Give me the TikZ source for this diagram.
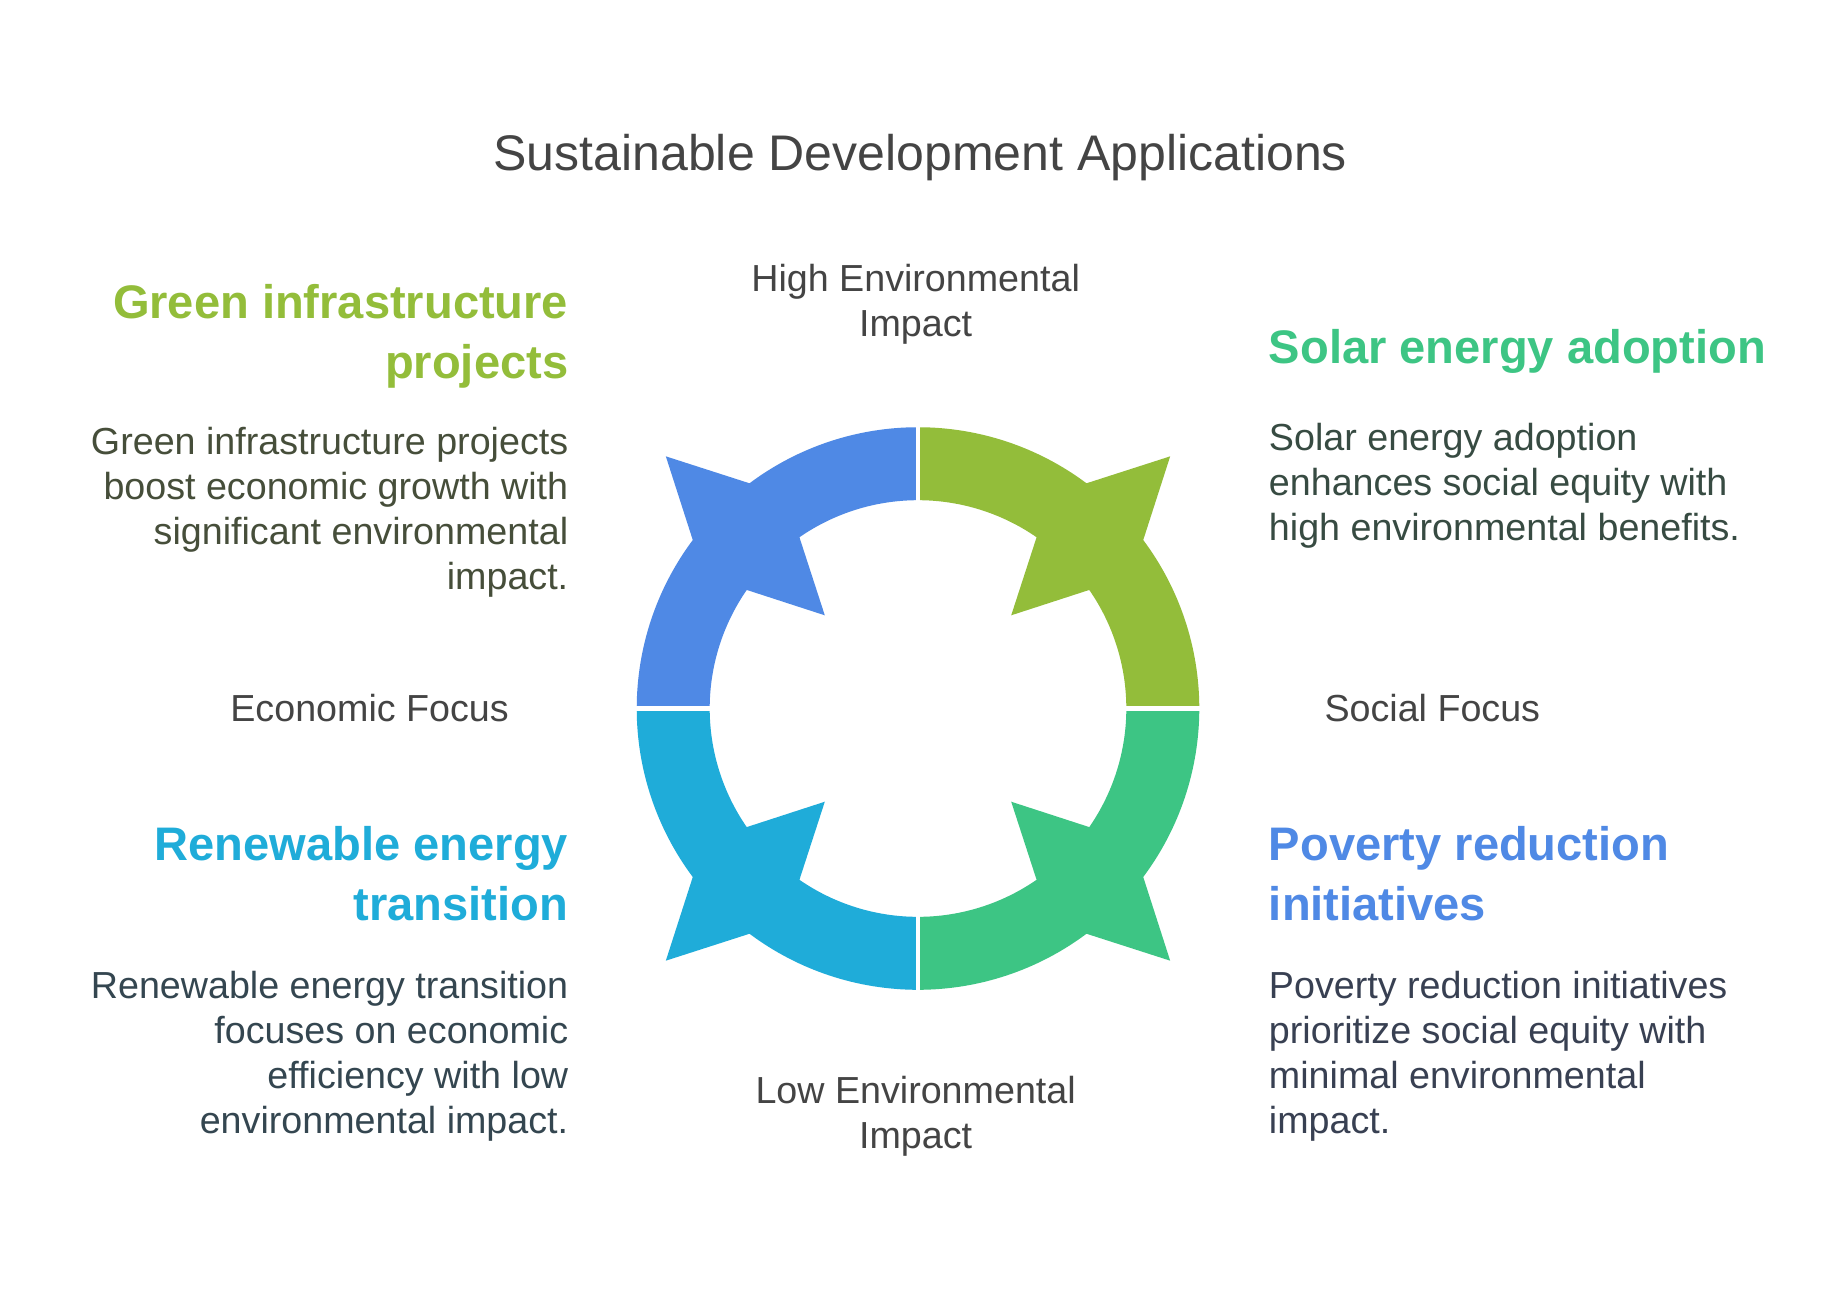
\documentclass[tikz,border=0pt]{standalone}
\usepackage{fontspec}
\setmainfont{Liberation Sans}
\usetikzlibrary{positioning}

\definecolor{olivegreen}{RGB}{147,189,58}
\definecolor{tealgreen}{RGB}{61,197,132}
\definecolor{skyblue}{RGB}{31,172,217}
\definecolor{royalblue}{RGB}{79,137,229}
\definecolor{olivetext}{RGB}{70,78,58}
\definecolor{tealtext}{RGB}{55,75,66}
\definecolor{skytext}{RGB}{52,70,80}
\definecolor{royaltext}{RGB}{56,64,82}
\definecolor{labelgray}{RGB}{68,68,68}

\begin{document}
\begin{tikzpicture}[x=1pt, y=1pt,
                    titletext/.style={inner sep=0, text=labelgray, font=\fontsize{42.5}{50}\selectfont},
                    axistext/.style={inner sep=0, text=labelgray, align=center, font=\fontsize{32}{38.3}\selectfont},
                    headtext/.style={inner sep=0, font=\fontsize{40}{51}\selectfont\bfseries},
                    bodytext/.style={inner sep=0, font=\fontsize{32}{38.3}\selectfont},]
    \useasboundingbox[fill=white] (0,0) rectangle (1560,-1100.3);
    % ring
    \begin{scope}[shift={(780,-602)}]
    \fill[royalblue] (90:239) arc[start angle=90, end angle=126.8, radius=239] -- (135:303) -- (143.2:239) arc[start angle=143.2, end angle=180, radius=239] -- (180:177) arc[start angle=180, end angle=145.3, radius=177] -- (135:112) -- (124.7:177) arc[start angle=124.7, end angle=90, radius=177] -- cycle;
    \fill[olivegreen] (0:239) arc[start angle=0, end angle=36.8, radius=239] -- (45:303) -- (53.2:239) arc[start angle=53.2, end angle=90, radius=239] -- (90:177) arc[start angle=90, end angle=55.3, radius=177] -- (45:112) -- (34.7:177) arc[start angle=34.7, end angle=0, radius=177] -- cycle;
    \fill[skyblue] (180:239) arc[start angle=180, end angle=216.8, radius=239] -- (225:303) -- (233.2:239) arc[start angle=233.2, end angle=270, radius=239] -- (270:177) arc[start angle=270, end angle=235.3, radius=177] -- (225:112) -- (214.7:177) arc[start angle=214.7, end angle=180, radius=177] -- cycle;
    \fill[tealgreen] (270:239) arc[start angle=270, end angle=306.8, radius=239] -- (315:303) -- (323.2:239) arc[start angle=323.2, end angle=360, radius=239] -- (0:177) arc[start angle=360, end angle=325.3, radius=177] -- (315:112) -- (304.7:177) arc[start angle=304.7, end angle=270, radius=177] -- cycle;
    \draw[white, line width=4] (0,250) -- (0,-250);
    \draw[white, line width=4] (-250,0) -- (250,0);
    \end{scope}
    % nodes (base = last line)
    \node[titletext, anchor=base] (title) at (782,-145) {Sustainable Development Applications};
    \node[axistext, anchor=base] (high) at (778,-286) {High Environmental\\Impact};
    \node[axistext, anchor=base] (low) at (778,-976) {Low Environmental\\Impact};
    \node[axistext, anchor=base] (econ) at (314,-613) {Economic Focus};
    \node[axistext, anchor=base] (social) at (1217,-613) {Social Focus};
    \node[headtext, text=olivegreen, align=right, anchor=base east] (greenhead) at (483,-322) {Green infrastructure\\projects};
    \node[bodytext, text=olivetext, align=right, anchor=base east] (greenbody) at (483,-501) {Green infrastructure projects\\boost economic growth with\\significant environmental\\impact.};
    \node[headtext, text=tealgreen, align=left, anchor=base west] (solarhead) at (1078,-309) {Solar energy adoption};
    \node[bodytext, text=tealtext, align=left, anchor=base west] (solarbody) at (1078,-459) {Solar energy adoption\\enhances social equity with\\high environmental benefits.};
    \node[headtext, text=skyblue, align=right, anchor=base east] (renewhead) at (483,-782) {Renewable energy\\transition};
    \node[bodytext, text=skytext, align=right, anchor=base east] (renewbody) at (483,-963) {Renewable energy transition\\focuses on economic\\efficiency with low\\environmental impact.};
    \node[headtext, text=royalblue, align=left, anchor=base west] (povertyhead) at (1078,-782) {Poverty reduction\\initiatives};
    \node[bodytext, text=royaltext, align=left, anchor=base west] (povertybody) at (1078,-963) {Poverty reduction initiatives\\prioritize social equity with\\minimal environmental\\impact.};
\end{tikzpicture}
\end{document}
